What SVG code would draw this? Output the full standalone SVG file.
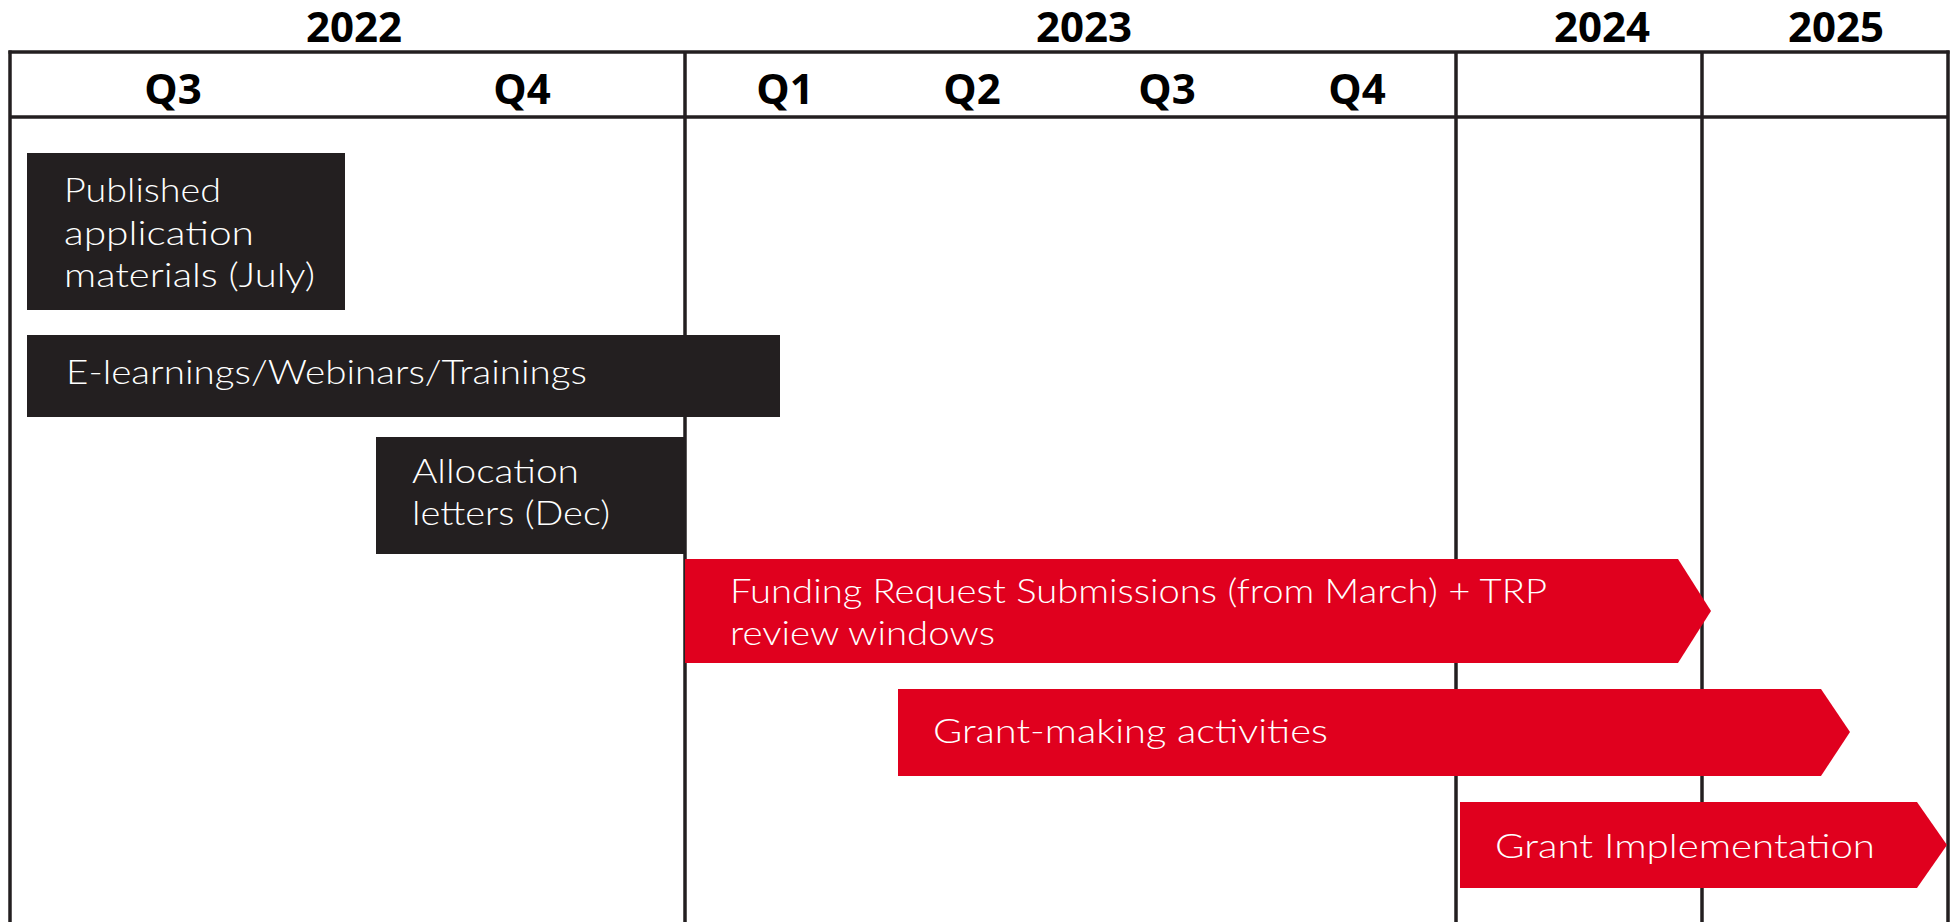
<svg xmlns="http://www.w3.org/2000/svg" width="1958" height="922" viewBox="0 0 1958 922">
<style>
.hdr{font-family:"Open Sans","Noto Sans",sans-serif;font-weight:700;font-size:42px;fill:#000;text-anchor:middle}
.grid{stroke:#231f20;stroke-width:3.5;fill:none}
.dark{fill:#231f20}
.red{fill:#e0001e}
.lbl{font-family:Lato,"Open Sans",sans-serif;font-weight:300;font-size:34px;fill:#fff}
</style>
<rect x="0" y="0" width="1958" height="922" fill="#fff"/>
<g id="grid" class="grid">
<line x1="8.5" y1="52" x2="1949.5" y2="52"/>
<line x1="10" y1="117" x2="1948" y2="117"/>
<line x1="10" y1="50.5" x2="10" y2="922"/>
<line x1="685" y1="52" x2="685" y2="922"/>
<line x1="1456" y1="52" x2="1456" y2="922"/>
<line x1="1702" y1="52" x2="1702" y2="922"/>
<line x1="1948" y1="50.5" x2="1948" y2="922"/>
</g>
<g id="headers">
<text class="hdr" x="354" y="42">2022</text>
<text class="hdr" x="1084" y="42">2023</text>
<text class="hdr" x="1602" y="42">2024</text>
<text class="hdr" x="1836" y="42">2025</text>
<text class="hdr" x="173" y="104">Q3</text>
<text class="hdr" x="522" y="104">Q4</text>
<text class="hdr" x="785" y="104">Q1</text>
<text class="hdr" x="972" y="104">Q2</text>
<text class="hdr" x="1167" y="104">Q3</text>
<text class="hdr" x="1357" y="104">Q4</text>
</g>
<g id="published">
<rect class="dark" x="27" y="153" width="318" height="157"/>
<text class="lbl" x="64" y="202" textLength="157" lengthAdjust="spacingAndGlyphs">Published</text>
<text class="lbl" x="64" y="244.5" textLength="190" lengthAdjust="spacingAndGlyphs">application</text>
<text class="lbl" x="64" y="287" textLength="251" lengthAdjust="spacingAndGlyphs">materials (July)</text>
</g>
<g id="elearnings">
<rect class="dark" x="27" y="335" width="753" height="82"/>
<text class="lbl" x="66" y="384" textLength="521" lengthAdjust="spacingAndGlyphs">E-learnings/Webinars/Trainings</text>
</g>
<g id="allocation">
<rect class="dark" x="376" y="437" width="309" height="117"/>
<text class="lbl" x="412" y="483" textLength="167" lengthAdjust="spacingAndGlyphs">Allocation</text>
<text class="lbl" x="412" y="525" textLength="198" lengthAdjust="spacingAndGlyphs">letters (Dec)</text>
</g>
<g id="funding">
<polygon class="red" points="685,559 1678,559 1711,611 1678,663 685,663"/>
<text class="lbl" x="730" y="603" textLength="817" lengthAdjust="spacingAndGlyphs">Funding Request Submissions (from March) + TRP</text>
<text class="lbl" x="730" y="645" textLength="265" lengthAdjust="spacingAndGlyphs">review windows</text>
</g>
<g id="grantmaking">
<polygon class="red" points="898,689 1821,689 1850,732 1821,776 898,776"/>
<text class="lbl" x="933" y="743" textLength="395" lengthAdjust="spacingAndGlyphs">Grant-making activities</text>
</g>
<g id="implementation">
<polygon class="red" points="1460,802 1917,802 1947,845 1917,888 1460,888"/>
<text class="lbl" x="1495" y="858" textLength="380" lengthAdjust="spacingAndGlyphs">Grant Implementation</text>
</g>
</svg>
